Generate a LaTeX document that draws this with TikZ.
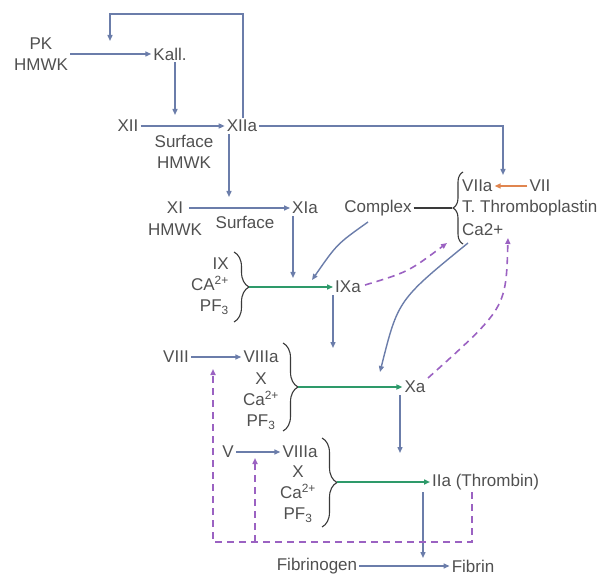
\documentclass[tikz,border=0pt]{standalone}
\usepackage{fontspec}
\setmainfont{Liberation Sans}
\usetikzlibrary{arrows.meta,decorations.pathreplacing}
\definecolor{txt}{HTML}{505050}
\definecolor{arrb}{HTML}{6B7DAA}
\definecolor{grn}{HTML}{2E9A6A}
\definecolor{pur}{HTML}{9B62C2}
\definecolor{org}{HTML}{E0854F}
\definecolor{brk}{HTML}{3A3A3A}
\begin{document}
\begin{tikzpicture}[x=1pt,y=-1pt,
  lbl/.style={text=txt,font=\fontsize{17}{21}\selectfont,inner sep=2pt},
  tip/.style={-{Triangle[length=6pt,width=5pt]}},
  barr/.style={draw=arrb,line width=1.4pt,tip},
  garr/.style={draw=grn,line width=1.8pt,tip},
  parr/.style={draw=pur,line width=1.6pt,dash pattern=on 7pt off 5pt,tip},
  oarr/.style={draw=org,line width=1.5pt,tip},
  brc/.style={draw=brk,line width=1.1pt,decorate,decoration={brace,amplitude=#1}},
  kline/.style={draw=brk,line width=1.4pt}]
\useasboundingbox (0,0) rectangle (605,577);

% nodes
\node[lbl,align=center] (pk) at (41,54) {PK\\HMWK};
\node[lbl] (kall) at (170,54) {Kall.};
\node[lbl] (xii) at (128,126) {XII};
\node[lbl] (xiia) at (242,126) {XIIa};
\node[lbl,align=center] (surf1) at (184,152) {Surface\\HMWK};
\node[lbl] (xi) at (175,208) {XI};
\node[lbl] (hmwk2) at (175,230) {HMWK};
\node[lbl] (surf2) at (245,222) {Surface};
\node[lbl] (xia) at (305,208) {XIa};
\node[lbl] (cplx) at (378,208) {Complex};
\node[lbl,anchor=west] (viia) at (460,186) {VIIa};
\node[lbl] (vii) at (540,186) {VII};
\node[lbl,anchor=west] (tt) at (460,208) {T. Thromboplastin};
\node[lbl,anchor=west] (ca1) at (460,230) {Ca2+};
\node[lbl,align=right,anchor=east] (ixg) at (231,286) {IX\\CA\textsuperscript{2+}\\PF\textsubscript{3}};
\node[lbl] (ixa) at (348,287) {IXa};
\node[lbl] (viii) at (176,357) {VIII};
\node[lbl] (viiia1) at (261,357) {VIIIa};
\node[lbl,align=center] (viiig) at (261,401) {X\\Ca\textsuperscript{2+}\\PF\textsubscript{3}};
\node[lbl] (xa) at (415,387) {Xa};
\node[lbl] (v) at (228,452) {V};
\node[lbl] (viiia2) at (300,452) {VIIIa};
\node[lbl,align=center] (vg) at (298,494) {X\\Ca\textsuperscript{2+}\\PF\textsubscript{3}};
\node[lbl,anchor=west] (iia) at (430,482) {IIa (Thrombin)};
\node[lbl] (fgn) at (317,566) {Fibrinogen};
\node[lbl] (fbn) at (473,566) {Fibrin};

% helper coordinates
\coordinate (tl) at (110,14);
\coordinate (tlend) at (110,41);
\coordinate (viiatop) at (503,175);
\coordinate (d1) at (229,197);
\coordinate (d2) at (293,278);
\coordinate (d3) at (333,348);
\coordinate (d4) at (400,453);
\coordinate (d5) at (423,558);
\coordinate (kd) at (175,115);
\coordinate (bt1) at (452,208);
\coordinate (bt2) at (249,287);
\coordinate (bt3) at (298,387);
\coordinate (bt4) at (337,482);
\coordinate (cxs) at (368,222);
\coordinate (cxe) at (312,280);
\coordinate (cas) at (468,243);
\coordinate (xae) at (380,372);
\coordinate (xas) at (428,378);
\coordinate (cae) at (508,238);
\coordinate (ixs) at (365,285);
\coordinate (ixe) at (447,243);
\coordinate (fbc) at (472,542);
\coordinate (fbl) at (213,542);
\coordinate (fbm) at (255,542);
\coordinate (fbt1) at (213,369);
\coordinate (fbt2) at (255,458);

% braces
\draw[brc=10pt] (463,244) -- (463,172);
\draw[brc=15pt] (234,252) -- (234,322);
\draw[brc=15pt] (283,343) -- (283,431);
\draw[brc=15pt] (322,438) -- (322,527);

% blue arrows
\draw[barr] (pk.east) -- (kall.west);
\draw[barr] (kd |- kall.south) -- (kd);
\draw[barr] (xii.east) -- (xiia.west);
\draw[barr] (xiia.north -| 243,0) |- (tl) -- (tlend);
\draw[barr] (xiia.east) -| (viiatop);
\draw[barr] (d1 |- xiia.south) -- (d1);
\draw[barr] (xi.east) ++(4,0) -- (xia.west);
\draw[barr] (d2 |- xia.south) -- (d2);
\draw[barr] (cxs) .. controls (337,244) .. (cxe);
\draw[barr] (d3 |- ixa.south) -- (d3);
\draw[barr] (cas) .. controls (398,300) .. (xae);
\draw[barr] (viii.east) -- (viiia1.west);
\draw[barr] (d4 |- xa.south) -- (d4);
\draw[barr] (v.east) -- (viiia2.west);
\draw[barr] (d5 |- iia.south) -- (d5);
\draw[barr] (fgn.east) -- (fbn.west);

% complex link and orange
\draw[kline] (cplx.east) -- (bt1);
\draw[oarr] (vii.west) -- (viia.east);

% green
\draw[garr] (bt2) -- (bt2 -| ixa.west);
\draw[garr] (bt3) -- (bt3 -| xa.west);
\draw[garr] (bt4) -- (bt4 -| iia.west);

% purple dashed
\draw[parr] (ixs) .. controls (408,272) .. (ixe);
\draw[parr] (xas) .. controls (506,308) .. (cae);
\draw[parr] (fbc |- iia.south) -- (fbc) -- (fbl) -- (fbt1);
\draw[parr] (fbm) -- (fbt2);
\end{tikzpicture}
\end{document}
